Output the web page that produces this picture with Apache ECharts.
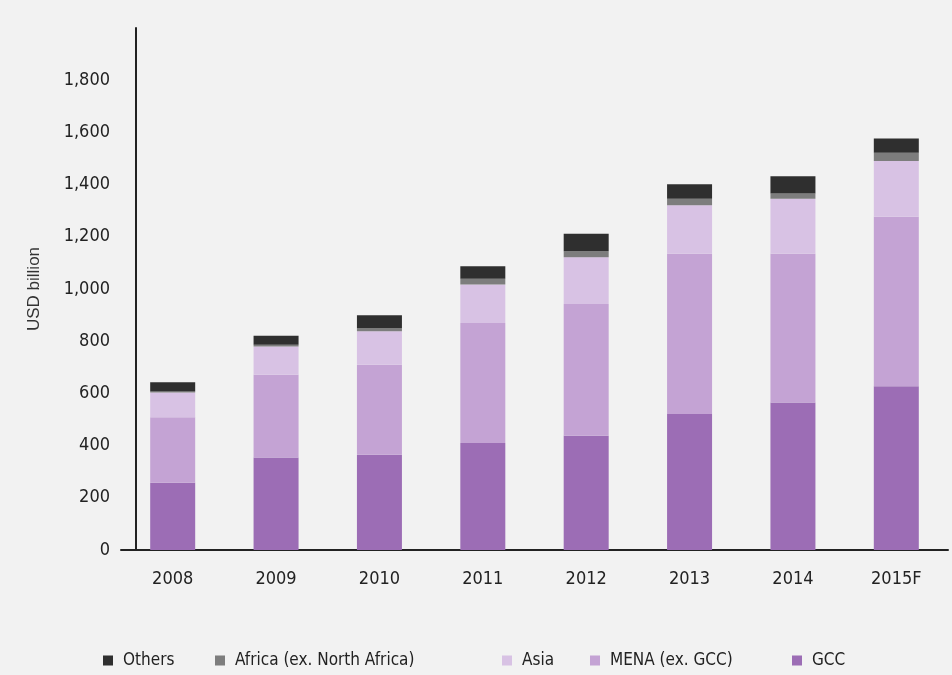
<!DOCTYPE html>
<html>
<head>
<meta charset="utf-8">
<script src="https://cdn.jsdelivr.net/npm/echarts@6/dist/echarts.min.js"></script>
<style>
  html, body { margin: 0; padding: 0; background: #f2f2f2; }
  #chart { width: 952px; height: 675px; }
</style>
</head>
<body>
<div id="chart"></div>
<script>
// values, USD billion
var years = ["2008", "2009", "2010", "2011", "2012", "2013", "2014", "2015F"];
var gcc    = [258, 354, 365, 410, 438, 521, 565, 627];
var mena   = [251, 317, 345, 460, 505, 614, 570, 650];
var asia   = [94, 109, 128, 147, 179, 186, 211, 213];
var africa = [4, 6, 13, 22, 23, 25, 20, 32];
var others = [36, 35, 48, 48, 67, 55, 66, 55];

var names  = ["Others", "Africa (ex. North Africa)", "Asia", "MENA (ex. GCC)", "GCC"];
var colors = ["#2f2f2f", "#7d7d7d", "#d8c2e4", "#c4a3d4", "#9c6db5"];
var legendLeft = [98, 210, 497, 585, 787];

var font = "'DejaVu Sans Condensed', 'Liberation Sans', sans-serif";

var chart = echarts.init(document.getElementById("chart"));

// one legend per item, the gaps between them are uneven
var legends = names.map(function (n, i) {
    return {
        data: [n],
        left: legendLeft[i],
        top: 647,
        icon: "rect",
        itemWidth: 10,
        itemHeight: 10,
        itemGap: 0,
        textStyle: { fontFamily: font, fontSize: 17, color: "#222", padding: [0, 0, 0, 5] },
        selectedMode: false
    };
});

function bar(name, data, color) {
    return {
        name: name,
        type: "bar",
        stack: "total",
        barWidth: 45,
        data: data,
        itemStyle: { color: color },
        emphasis: { disabled: true }
    };
}

chart.setOption({
    backgroundColor: "#f2f2f2",
    animation: false,
    color: colors,
    legend: legends,
    grid: { left: 121, right: 4, top: 28, bottom: 125 },
    xAxis: {
        type: "category",
        data: years,
        axisLine: { lineStyle: { color: "#222", width: 2 } },
        axisTick: { show: false },
        axisLabel: { fontFamily: font, fontSize: 18, color: "#222", margin: 20 }
    },
    yAxis: {
        type: "value",
        min: 0,
        max: 2000,
        interval: 200,
        offset: -15,
        name: "USD billion",
        nameLocation: "middle",
        nameGap: 93,
        nameTextStyle: { fontFamily: "'Liberation Sans', sans-serif", fontSize: 17, color: "#333" },
        axisLine: { show: true, lineStyle: { color: "#222", width: 2 } },
        axisTick: { show: false },
        splitLine: { show: false },
        axisLabel: {
            fontFamily: font, fontSize: 18, color: "#222", margin: 26,
            showMaxLabel: false
        }
    },
    series: [
        bar("GCC", gcc, colors[4]),
        bar("MENA (ex. GCC)", mena, colors[3]),
        bar("Asia", asia, colors[2]),
        bar("Africa (ex. North Africa)", africa, colors[1]),
        bar("Others", others, colors[0])
    ]
});
</script>
</body>
</html>
